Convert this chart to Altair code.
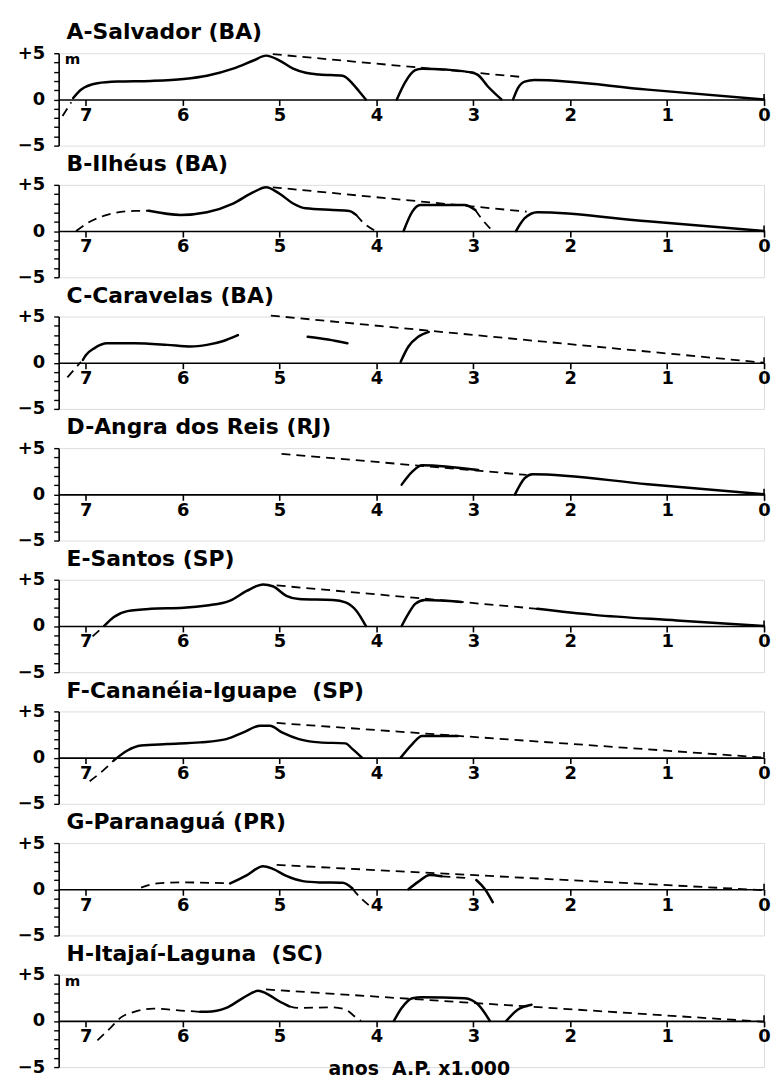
import altair as alt
import pandas as pd

# ---------------- data (age in ka B.P., sea level in m) ----------------
titles = ["A-Salvador (BA)", "B-Ilhéus (BA)", "C-Caravelas (BA)", "D-Angra dos Reis (RJ)",
          "E-Santos (SP)", "F-Cananéia-Iguape\u00a0\u00a0(SP)", "G-Paranaguá (PR)",
          "H-Itajaí-Laguna\u00a0\u00a0(SC)"]

x_ticks = [0, 1, 2, 3, 4, 5, 6, 7]
y_ticks = [-5, -4, -3, -2, -1, 0, 1, 2, 3, 4, 5]

# segment ids: s* = solid curve, d* = dashed curve, e = dashed envelope
A_t = [7.24, 7.15,
       7.13, 7.05, 6.88, 6.67, 6.33, 5.99, 5.75, 5.48, 5.27, 5.14, 5.0, 4.86, 4.73, 4.59, 4.35, 4.25, 4.18, 4.11,
       3.79, 3.70, 3.60, 3.53, 3.29, 3.02, 2.95, 2.85, 2.71,
       2.59, 2.54, 2.47, 2.37, 1.2, 0.0,
       5.07, 2.47]
A_h = [-1.8, -0.3,
       0.15, 1.05, 1.75, 1.93, 2.0, 2.21, 2.56, 3.33, 4.21, 4.74, 4.21, 3.33, 2.88, 2.7, 2.56, 1.75, 0.88, 0.0,
       0.0, 1.93, 3.16, 3.33, 3.23, 2.91, 2.63, 1.4, 0.0,
       0.0, 1.23, 1.93, 2.1, 1.06, 0.0,
       4.9, 2.4]
A_seg = ["d0"] * 2 + ["s1"] * 18 + ["s2"] * 9 + ["s3"] * 6 + ["e"] * 2

B_t = [7.10, 6.98, 6.78, 6.50, 6.35,
       6.35, 6.02, 5.75, 5.48, 5.27, 5.14, 5.0, 4.86, 4.73, 4.45, 4.28, 4.21,
       4.21, 4.15, 4.01,
       3.72, 3.63, 3.55, 3.09, 2.98,
       2.98, 2.92, 2.80,
       2.56, 2.47, 2.34, 1.2, 0.0,
       5.07, 2.45]
B_h = [0.0, 0.88, 1.75, 2.18, 2.2,
       2.2, 1.75, 2.04, 2.98, 4.21, 4.74, 4.04, 2.98, 2.46, 2.28, 2.18, 1.75,
       1.75, 1.05, 0.0,
       0.0, 2.1, 2.81, 2.81, 2.28,
       2.28, 1.4, 0.0,
       0.0, 1.4, 2.04, 1.05, 0.0,
       4.74, 2.1]
B_seg = ["d1"] * 5 + ["s1"] * 12 + ["d2"] * 3 + ["s2"] * 5 + ["d3"] * 3 + ["s3"] * 5 + ["e"] * 2

C_t = [7.19, 7.05,
       7.03, 7.0, 6.91, 6.78, 6.50, 6.16, 5.92, 5.75, 5.58, 5.43,
       4.71, 4.50, 4.30,
       3.75, 3.67, 3.57, 3.46,
       5.09, 0.0]
C_h = [-1.58, 0.1,
       0.3, 0.8, 1.58, 2.1, 2.1, 1.93, 1.75, 1.93, 2.35, 2.98,
       2.8, 2.5, 2.1,
       0.1, 1.75, 2.8, 3.33,
       5.1, 0.0]
C_seg = ["d1"] * 2 + ["s1"] * 10 + ["s2"] * 3 + ["s3"] * 4 + ["e"] * 2

D_t = [3.74, 3.63, 3.53, 2.95,
       2.57, 2.47, 2.39, 1.2, 0.0,
       4.98, 2.45]
D_h = [1.05, 2.46, 3.16, 2.63,
       0.0, 1.75, 2.18, 1.1, 0.0,
       4.39, 2.1]
D_seg = ["s1"] * 4 + ["s2"] * 5 + ["e"] * 2

E_t = [6.93, 6.82,
       6.81, 6.71, 6.57, 6.33, 5.99, 5.75, 5.51, 5.34, 5.17, 5.07, 4.93, 4.80, 4.45, 4.32, 4.21, 4.11,
       3.74, 3.67, 3.60, 3.50, 3.12,
       2.34, 1.76, 0.9, 0.0,
       5.03, 2.34]
E_h = [-1.12, -0.1,
       0.0, 0.98, 1.61, 1.86, 1.96, 2.21, 2.74, 3.79, 4.49, 4.3, 3.26, 2.91, 2.81, 2.56, 1.68, 0.0,
       0.0, 1.33, 2.39, 2.81, 2.6,
       1.86, 1.2, 0.6, 0.0,
       4.39, 1.86]
E_seg = ["d1"] * 2 + ["s1"] * 16 + ["s2"] * 5 + ["s3"] * 4 + ["e"] * 2

F_t = [6.96, 6.80, 6.71,
       6.71, 6.57, 6.43, 6.16, 5.82, 5.55, 5.38, 5.20, 5.10, 4.97, 4.80, 4.59, 4.32, 4.25, 4.15,
       3.75, 3.63, 3.53, 3.16,
       5.03, 0.0]
F_h = [-2.56, -1.2, -0.3,
       -0.3, 0.77, 1.3, 1.47, 1.65, 2.0, 2.7, 3.45, 3.45, 2.7, 2.0, 1.65, 1.54, 0.95, 0.0,
       0.0, 1.47, 2.35, 2.35,
       3.75, 0.0]
F_seg = ["d1"] * 3 + ["s1"] * 15 + ["s2"] * 4 + ["e"] * 2

G_t = [6.43, 6.26, 5.99, 5.51,
       5.51, 5.34, 5.17, 5.07, 4.93, 4.76, 4.59, 4.35, 4.25,
       4.25, 4.21, 4.08,
       3.67, 3.57, 3.45, 3.33,
       3.33, 3.05,
       2.97, 2.88, 2.80,
       5.03, 0.0]
G_h = [0.18, 0.63, 0.74, 0.63,
       0.63, 1.51, 2.49, 2.21, 1.44, 0.88, 0.74, 0.7, 0.1,
       0.1, -0.42, -1.72,
       0.0, 0.8, 1.55, 1.4,
       1.4, 1.2,
       1.0, 0.0, -1.4,
       2.63, -0.1]
G_seg = ["d1"] * 4 + ["s1"] * 9 + ["d2"] * 3 + ["s2"] * 4 + ["d3"] * 2 + ["s3"] * 3 + ["e"] * 2

H_t = [6.88, 6.74, 6.64, 6.50, 6.30, 6.02, 5.82,
       5.82, 5.75, 5.55, 5.38, 5.22, 5.14, 5.0, 4.90,
       4.90, 4.80, 4.45, 4.32, 4.21, 4.16,
       3.82, 3.74, 3.63, 3.53, 3.09, 2.95, 2.83,
       2.66, 2.54, 2.40,
       5.14, 0.0]
H_h = [-2.1, -0.7, 0.35, 0.98, 1.33, 1.12, 0.98,
       0.98, 0.98, 1.4, 2.46, 3.25, 2.98, 2.1, 1.58,
       1.58, 1.4, 1.47, 1.23, 0.35, 0.0,
       0.0, 1.4, 2.46, 2.56, 2.46, 1.75, 0.0,
       0.0, 1.23, 1.75,
       3.4, -0.1]
H_seg = ["d1"] * 7 + ["s1"] * 8 + ["d2"] * 6 + ["s2"] * 7 + ["s3"] * 3 + ["e"] * 2

panels = [(A_t, A_h, A_seg), (B_t, B_h, B_seg), (C_t, C_h, C_seg), (D_t, D_h, D_seg),
          (E_t, E_h, E_seg), (F_t, F_h, F_seg), (G_t, G_h, G_seg), (H_t, H_h, H_seg)]

unit_label = "m"
x_title = "anos\u00a0\u00a0A.P.\u00a0x1.000"

# ---------------- chart ----------------
FONT = "DejaVu Sans"
W, H = 710, 93

xs = alt.Scale(domain=[0, 7.28], reverse=True, nice=False, zero=False)
ys = alt.Scale(domain=[-5, 5], nice=False, zero=False)
xa = alt.Axis(values=x_ticks, format="d", offset=-H / 2, tickSize=6, tickWidth=1.6,
              domainWidth=1.6, domainColor="black", tickColor="black", labelColor="black",
              labelFont=FONT, labelFontSize=18, labelFontWeight="bold", labelPadding=1,
              grid=False, title=None, labelFlush=False)
ya = alt.Axis(values=y_ticks, tickSize=5, tickWidth=1.4, domainWidth=1.6, domainColor="black",
              tickColor="black", labelColor="black", labelFont=FONT, labelFontSize=18,
              labelFontWeight="bold", labelPadding=9, grid=False, title=None,
              labelExpr="datum.value == 5 ? '+5' : (datum.value == 0 ? '0' : (datum.value == -5 ? '\u22125' : ''))")
X = alt.X("t:Q", scale=xs, axis=xa)
Y = alt.Y("h:Q", scale=ys, axis=ya)

charts = []
for i, ((t, h, seg), title) in enumerate(zip(panels, titles)):
    df = pd.DataFrame({"t": t, "h": h, "seg": seg})
    df["kind"] = df["seg"].str[0]
    base = alt.Chart(df).encode(x=X, y=Y, detail="seg:N",
                                order=alt.Order("t:Q", sort="descending"))
    solid = base.transform_filter("datum.kind == 's'").mark_line(
        color="black", strokeWidth=2.5, interpolate="monotone", strokeCap="round")
    dashed = base.transform_filter("datum.kind != 's'").mark_line(
        color="black", strokeWidth=1.8, strokeDash=[9, 6], interpolate="monotone")
    endtick = alt.Chart(pd.DataFrame({"t": [0], "h": [0], "h2": [0.6]})).mark_rule(
        color="black", strokeWidth=1.6).encode(x=X, y=Y, y2="h2:Q")
    layers = [solid, dashed, endtick]
    if i in (0, 7):
        layers.append(alt.Chart(pd.DataFrame({"s": [unit_label]})).mark_text(
            font=FONT, fontSize=15, fontWeight="bold", align="left", baseline="middle",
            color="black").encode(x=alt.value(6), y=alt.value(6), text="s:N"))
    if i == 7:
        layers.append(alt.Chart(pd.DataFrame({"s": [x_title]})).mark_text(
            font=FONT, fontSize=19, fontWeight="bold", align="center", baseline="alphabetic",
            color="black").encode(x=alt.value(363), y=alt.value(101), text="s:N"))
    ch = alt.layer(*layers).properties(
        width=W, height=H,
        title=alt.TitleParams(title, anchor="start", frame="group", dx=8, offset=0,
                              font=FONT, fontSize=22, fontWeight="bold", color="black"))
    charts.append(ch)

chart = alt.vconcat(*charts, spacing=39.5, bounds="flush").properties(
    padding={"left": 8, "top": 9, "right": 0, "bottom": 0}
).configure_view(stroke=None).configure(background="white")

chart.save("out.html", embed_options={"renderer": "svg", "actions": False})
